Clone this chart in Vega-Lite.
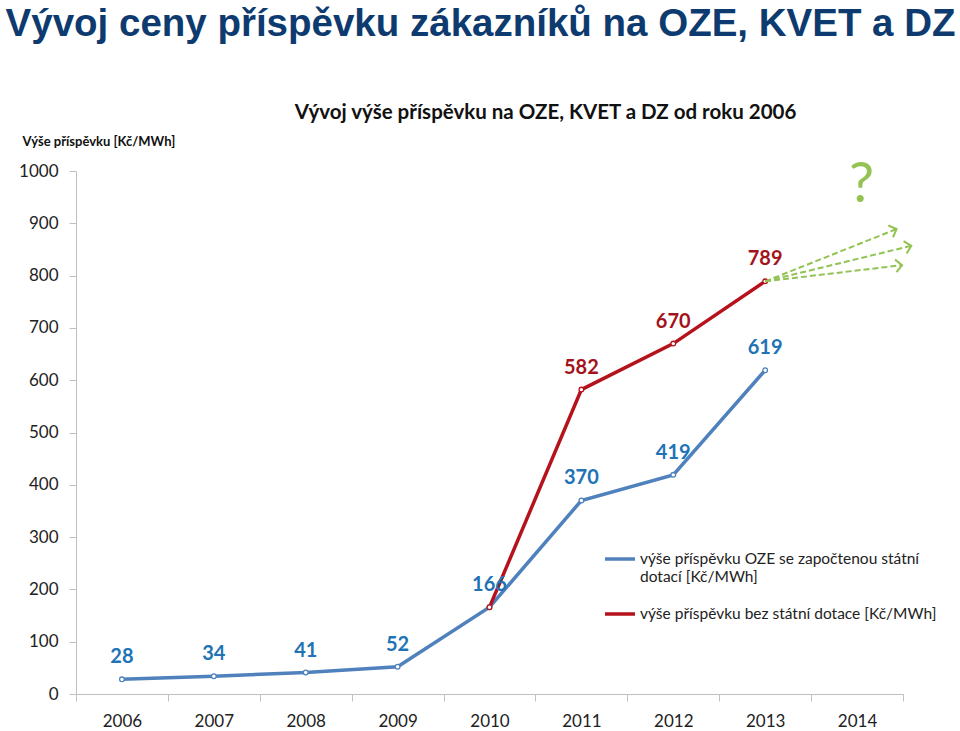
{
  "$schema": "https://vega.github.io/schema/vega-lite/v6.json",
  "background": "white",
  "padding": {"left": 5, "top": 5, "right": 5, "bottom": 5},
  "title": {
    "text": "Vývoj ceny příspěvku zákazníků na OZE, KVET a DZ",
    "anchor": "start",
    "frame": "bounds",
    "font": "Liberation Sans",
    "fontSize": 38.5,
    "fontWeight": "bold",
    "color": "#0e3b6f",
    "dx": -13,
    "offset": 58
  },
  "datasets": {
    "series": [
      {"series": "výše příspěvku OZE se započtenou státní dotací [Kč/MWh]", "year": 2006, "value": 28},
      {"series": "výše příspěvku OZE se započtenou státní dotací [Kč/MWh]", "year": 2007, "value": 34},
      {"series": "výše příspěvku OZE se započtenou státní dotací [Kč/MWh]", "year": 2008, "value": 41},
      {"series": "výše příspěvku OZE se započtenou státní dotací [Kč/MWh]", "year": 2009, "value": 52},
      {"series": "výše příspěvku OZE se započtenou státní dotací [Kč/MWh]", "year": 2010, "value": 166},
      {"series": "výše příspěvku OZE se započtenou státní dotací [Kč/MWh]", "year": 2011, "value": 370},
      {"series": "výše příspěvku OZE se započtenou státní dotací [Kč/MWh]", "year": 2012, "value": 419},
      {"series": "výše příspěvku OZE se započtenou státní dotací [Kč/MWh]", "year": 2013, "value": 619},
      {"series": "výše příspěvku bez státní dotace [Kč/MWh]", "year": 2010, "value": 166},
      {"series": "výše příspěvku bez státní dotace [Kč/MWh]", "year": 2011, "value": 582},
      {"series": "výše příspěvku bez státní dotace [Kč/MWh]", "year": 2012, "value": 670},
      {"series": "výše příspěvku bez státní dotace [Kč/MWh]", "year": 2013, "value": 789}
    ],
    "arrows": [
      {"arrow": "a", "year": 2013, "value": 789, "year2": 2014.43, "value2": 889},
      {"arrow": "b", "year": 2013, "value": 789, "year2": 2014.59, "value2": 857},
      {"arrow": "c", "year": 2013, "value": 789, "year2": 2014.49, "value2": 820}
    ],
    "note": [
      {"label": "?", "year": 2014.05, "value": 973}
    ]
  },
  "vconcat": [
    {
      "width": 827,
      "height": 523,
      "title": {
        "text": "Vývoj výše příspěvku na OZE, KVET a DZ od roku 2006",
        "anchor": "middle",
        "frame": "group",
        "font": "Lato",
        "fontSize": 20.5,
        "fontWeight": "bold",
        "color": "#111111",
        "dx": 56,
        "offset": 12
      },
      "layer": [
        {
          "data": {"name": "series"},
          "mark": {
            "type": "line",
            "strokeWidth": 3.5,
            "point": {"filled": false, "fill": "white", "size": 22, "strokeWidth": 1.3}
          },
          "encoding": {
            "x": {
              "field": "year",
              "type": "quantitative",
              "scale": {"domain": [2005.5, 2014.5], "nice": false, "zero": false},
              "axis": {
                "title": null,
                "values": [2005.5, 2006, 2006.5, 2007, 2007.5, 2008, 2008.5, 2009, 2009.5, 2010, 2010.5, 2011, 2011.5, 2012, 2012.5, 2013, 2013.5, 2014, 2014.5],
                "labelExpr": "datum.value % 1 === 0 ? format(datum.value, 'd') : ''",
                "tickOpacity": {"condition": {"test": "datum.value % 1 === 0", "value": 0}, "value": 1},
                "grid": false,
                "domainColor": "#bfbfbf",
                "tickColor": "#bfbfbf",
                "tickSize": 7,
                "labelFont": "Lato",
                "labelFontSize": 17,
                "labelColor": "#222222",
                "labelPadding": 12,
                "labelOverlap": false,
                "labelFlush": false,
                "labelBound": false
              }
            },
            "y": {
              "field": "value",
              "type": "quantitative",
              "scale": {"domain": [0, 1000], "nice": false},
              "axis": {
                "title": "Výše příspěvku [Kč/MWh]",
                "titleAngle": 0,
                "titleAlign": "left",
                "titleBaseline": "middle",
                "titleX": -54,
                "titleY": -30,
                "titleFont": "Lato",
                "titleFontSize": 13,
                "titleFontWeight": "bold",
                "titleColor": "#111111",
                "values": [0, 100, 200, 300, 400, 500, 600, 700, 800, 900, 1000],
                "format": "d",
                "grid": false,
                "domainColor": "#bfbfbf",
                "tickColor": "#bfbfbf",
                "tickSize": 7,
                "labelFont": "Lato",
                "labelFontSize": 17,
                "labelColor": "#222222",
                "labelPadding": 11
              }
            },
            "color": {
              "field": "series",
              "type": "nominal",
              "scale": {
                "domain": ["výše příspěvku OZE se započtenou státní dotací [Kč/MWh]", "výše příspěvku bez státní dotace [Kč/MWh]"],
                "range": ["#4f81bd", "#b5121b"]
              },
              "legend": {
                "orient": "none",
                "legendX": 527,
                "legendY": 371,
                "title": null,
                "symbolType": "stroke",
                "symbolSize": 900,
                "symbolStrokeWidth": 3.5,
                "labelFont": "Lato",
                "labelFontSize": 15.5,
                "labelColor": "#222222",
                "labelLimit": 400,
                "labelOffset": 3,
                "rowPadding": 12,
                "labelExpr": "datum.label === 'výše příspěvku OZE se započtenou státní dotací [Kč/MWh]' ? ['výše příspěvku OZE se započtenou státní', 'dotací [Kč/MWh]'] : datum.label"
              }
            }
          }
        },
        {
          "data": {"name": "series"},
          "transform": [
            {"filter": "!(datum.series === 'výše příspěvku bez státní dotace [Kč/MWh]' && datum.year === 2010)"}
          ],
          "mark": {"type": "text", "dy": -22, "font": "Lato", "fontSize": 20, "fontWeight": "bold", "baseline": "middle"},
          "encoding": {
            "x": {"field": "year", "type": "quantitative"},
            "y": {"field": "value", "type": "quantitative"},
            "text": {"field": "value", "type": "quantitative"},
            "color": {
              "condition": {"test": "datum.series === 'výše příspěvku bez státní dotace [Kč/MWh]'", "value": "#a3131c"},
              "value": "#2073b5"
            }
          }
        },
        {
          "data": {"name": "arrows"},
          "mark": {"type": "rule", "color": "#92c353", "strokeWidth": 2, "strokeDash": [6, 3]},
          "encoding": {
            "x": {"field": "year", "type": "quantitative"},
            "y": {"field": "value", "type": "quantitative"},
            "x2": {"field": "year2"},
            "y2": {"field": "value2"}
          }
        },
        {
          "data": {"name": "arrows"},
          "transform": [
            {"calculate": "atan2(-(datum.value2 - datum.value) * 0.523, (datum.year2 - datum.year) * 91.9) * 180 / PI", "as": "angle"}
          ],
          "mark": {"type": "point", "shape": "M-1,-1L0,0L-1,1", "filled": false, "color": "#92c353", "strokeWidth": 2, "size": 160, "opacity": 1},
          "encoding": {
            "x": {"field": "year2", "type": "quantitative"},
            "y": {"field": "value2", "type": "quantitative"},
            "angle": {"field": "angle", "type": "quantitative", "scale": null}
          }
        },
        {
          "data": {"name": "note"},
          "mark": {"type": "text", "font": "Lato", "fontSize": 56, "color": "#92c353", "baseline": "middle"},
          "encoding": {
            "x": {"field": "year", "type": "quantitative"},
            "y": {"field": "value", "type": "quantitative"},
            "text": {"field": "label"}
          }
        }
      ]
    }
  ],
  "config": {
    "view": {"stroke": null},
    "font": "Lato"
  }
}
